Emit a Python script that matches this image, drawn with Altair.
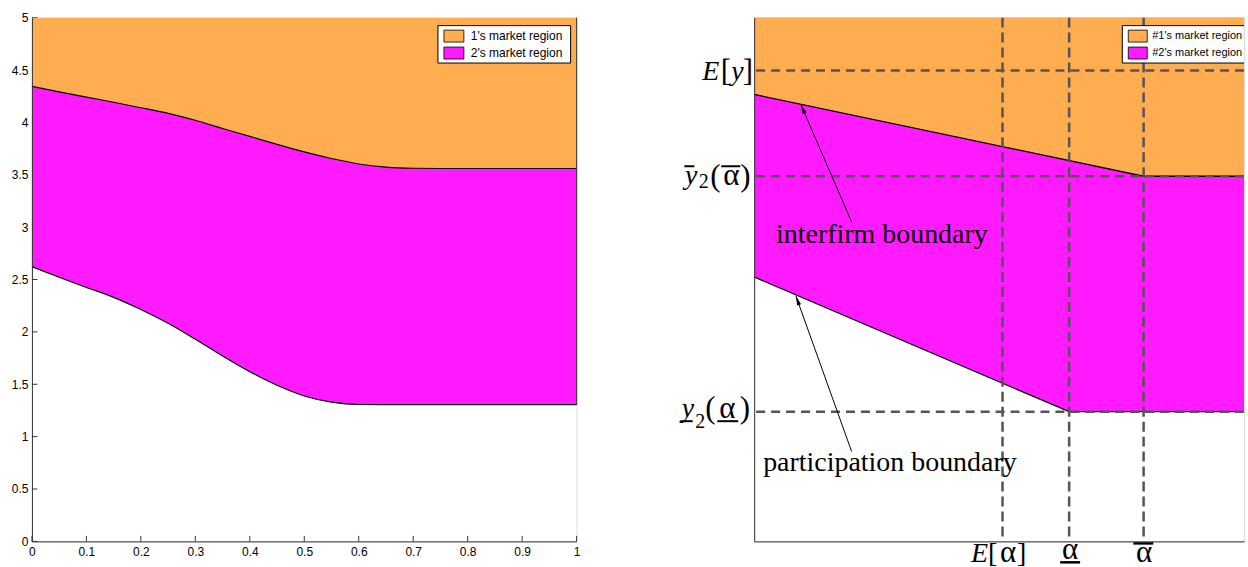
import altair as alt
import pandas as pd

# ---------------- colours ----------------
ORANGE = "#FFAD50"
MAGENTA = "#FF1AFF"
AXIS = "#333333"
DASH = "#555555"

# ---------------- left panel data ----------------
left_x = [0.0, 0.05, 0.10, 0.15, 0.20, 0.25, 0.30, 0.35, 0.40, 0.45, 0.50,
          0.55, 0.60, 0.65, 0.70, 0.75, 0.80, 0.90, 1.00]
left_upper = [4.343, 4.292, 4.242, 4.192, 4.140, 4.086, 4.020, 3.942, 3.866, 3.790, 3.718,
              3.655, 3.603, 3.573, 3.562, 3.560, 3.560, 3.560, 3.560]
left_lower = [2.622, 2.522, 2.424, 2.330, 2.214, 2.082, 1.930, 1.770, 1.620, 1.490, 1.388,
              1.329, 1.307, 1.305, 1.305, 1.305, 1.305, 1.305, 1.305]
left_top = 5.0
left_xticks = [0, 0.1, 0.2, 0.3, 0.4, 0.5, 0.6, 0.7, 0.8, 0.9, 1]
left_yticks = [0, 0.5, 1, 1.5, 2, 2.5, 3, 3.5, 4, 4.5, 5]
left_legend = ["1's market region", "2's market region"]

# ---------------- right panel (schematic) data ----------------
right_interfirm_x = [0.0, 0.795, 1.0]
right_interfirm_y = [4.267, 3.486, 3.486]
right_particip_x = [0.0, 0.643, 1.0]
right_particip_y = [2.524, 1.238, 1.238]
right_vlines = [0.507, 0.643, 0.795]      # E[alpha], alpha_, alpha-bar
right_hlines = [4.495, 3.486, 1.238]      # E[y], ybar2(alphabar), y_2(alpha_)
right_top = 5.0
right_legend = ["#1's market region", "#2's market region"]
arrow_labels = ["interfirm boundary", "participation boundary"]
arrow_tail_x = [0.199, 0.199]
arrow_tail_y = [3.048, 0.857]
arrow_head_x = [0.0953, 0.0852]
arrow_head_y = [4.171, 2.343]
label_x = [0.0446, 0.0183]
label_y = [2.850, 0.676]

W1, W2, H = 546, 491, 525
SERIF = "Liberation Serif"
SANS = "Liberation Sans"

# ---------------- left panel ----------------
xs_l = alt.Scale(domain=[0, 1], nice=False, zero=False)
ys_l = alt.Scale(domain=[0, 5], nice=False, zero=False)
ax_common = dict(ticks=False, tickSize=0, domainColor=AXIS, domainWidth=1,
                 labelFont=SANS, labelFontSize=12, labelColor="black",
                 grid=False, title=None, labelFlush=False, labelOverlap=False,
                 zindex=1, format="~g")
lx_axis = alt.Axis(values=left_xticks, labelPadding=5, **ax_common)
ly_axis = alt.Axis(values=left_yticks, labelPadding=4, **ax_common)


def LX(f):
    return alt.X(f, type="quantitative", scale=xs_l, axis=lx_axis)


def LY(f):
    return alt.Y(f, type="quantitative", scale=ys_l, axis=ly_axis)


ldf = pd.DataFrame({"x": left_x, "upper": left_upper, "lower": left_lower,
                    "top": [left_top] * len(left_x)})

l_xt = alt.Chart(pd.DataFrame({"t": left_xticks})).mark_rule(color=AXIS, strokeWidth=1).encode(
    x=LX("t"), y=alt.value(H), y2=alt.value(H - 5.5))
l_yt = alt.Chart(pd.DataFrame({"t": left_yticks})).mark_rule(color=AXIS, strokeWidth=1).encode(
    y=LY("t"), x=alt.value(0), x2=alt.value(5.5))
l_mag = alt.Chart(ldf).mark_area(color=MAGENTA, opacity=1, interpolate="monotone").encode(
    x=LX("x"), y=LY("lower"), y2="upper")
l_org = alt.Chart(ldf).mark_area(color=ORANGE, opacity=1, interpolate="monotone").encode(
    x=LX("x"), y=LY("upper"), y2="top")
l_up = alt.Chart(ldf).mark_line(color="black", strokeWidth=1.2, interpolate="monotone").encode(
    x=LX("x"), y=LY("upper"))
l_lo = alt.Chart(ldf).mark_line(color="black", strokeWidth=1.2, interpolate="monotone").encode(
    x=LX("x"), y=LY("lower"))
l_edge = alt.Chart(pd.DataFrame({"x": [left_x[-1]], "a": [left_lower[-1]], "b": [left_top]})).mark_rule(
    color="#333333", strokeWidth=1).encode(x=LX("x"), y=LY("a"), y2="b")

dummy = pd.DataFrame({"d": [0]})


def legend_layers(labels, x0, x1, sw0, sw1, tx, fsize, clip):
    box = alt.Chart(dummy).mark_rect(fill="white", stroke="black", strokeWidth=1, clip=clip).encode(
        x=alt.value(x0), x2=alt.value(x1), y=alt.value(8), y2=alt.value(45.5))
    out = [box]
    rows = [(12.5, 24.5, ORANGE), (29.5, 41.5, MAGENTA)]
    for lab, (ya, yb, col) in zip(labels, rows):
        out.append(alt.Chart(dummy).mark_rect(fill=col, stroke="black", strokeWidth=0.8, clip=clip).encode(
            x=alt.value(sw0), x2=alt.value(sw1), y=alt.value(ya), y2=alt.value(yb)))
        out.append(alt.Chart(pd.DataFrame({"label": [lab]})).mark_text(
            align="left", baseline="middle", font=SANS, fontSize=fsize, color="black", clip=clip).encode(
            x=alt.value(tx), y=alt.value((ya + yb) / 2), text="label:N"))
    return out


left = alt.layer(l_xt, l_yt, l_mag, l_org, l_up, l_lo, l_edge,
                 *legend_layers(left_legend, 407, 540, 413, 433, 440, 12, False)
                 ).properties(width=W1, height=H)

# ---------------- right panel ----------------
xs_r = alt.Scale(domain=[0, 1], nice=False, zero=False)
ys_r = alt.Scale(domain=[0, 5], nice=False, zero=False)
r_axis = alt.Axis(labels=False, ticks=False, domainColor=AXIS, domainWidth=1, grid=False,
                  title=None, zindex=1)


def RX(f):
    return alt.X(f, type="quantitative", scale=xs_r, axis=r_axis)


def RY(f):
    return alt.Y(f, type="quantitative", scale=ys_r, axis=r_axis)


inter_df = pd.DataFrame({"x": right_interfirm_x, "y": right_interfirm_y,
                         "top": [right_top] * len(right_interfirm_x)})
part_df = pd.DataFrame({"x": right_particip_x, "y": right_particip_y,
                        "top": [right_top] * len(right_particip_x)})

r_mag = alt.Chart(part_df).mark_area(color=MAGENTA, opacity=1).encode(x=RX("x"), y=RY("y"), y2="top")
r_org = alt.Chart(inter_df).mark_area(color=ORANGE, opacity=1).encode(x=RX("x"), y=RY("y"), y2="top")
r_l1 = alt.Chart(inter_df).mark_line(color="black", strokeWidth=1.3).encode(x=RX("x"), y=RY("y"))
r_l2 = alt.Chart(part_df).mark_line(color="black", strokeWidth=1.3).encode(x=RX("x"), y=RY("y"))
r_h = alt.Chart(pd.DataFrame({"h": right_hlines})).mark_rule(
    color=DASH, strokeWidth=2.5, strokeDash=[9, 6]).encode(y=RY("h"))
r_v = alt.Chart(pd.DataFrame({"v": right_vlines})).mark_rule(
    color=DASH, strokeWidth=2.5, strokeDash=[10, 5]).encode(x=RX("v"))

arr_df = pd.DataFrame({"tx": arrow_tail_x, "ty": arrow_tail_y, "hx": arrow_head_x, "hy": arrow_head_y,
                       "label": arrow_labels, "lx": label_x, "ly": label_y})
r_arr = alt.Chart(arr_df).mark_rule(color="black", strokeWidth=1).encode(
    x=RX("tx"), y=RY("ty"), x2="hx", y2="hy")
HEAD = "M0,0L0.45,2L-0.45,2Z"
r_head1 = alt.Chart(arr_df.iloc[[0]]).mark_point(shape=HEAD, filled=True, color="black", size=90,
                                                  angle=336.6, opacity=1).encode(x=RX("hx"), y=RY("hy"))
r_head2 = alt.Chart(arr_df.iloc[[1]]).mark_point(shape=HEAD, filled=True, color="black", size=90,
                                                  angle=340.3, opacity=1).encode(x=RX("hx"), y=RY("hy"))
r_text = alt.Chart(arr_df).mark_text(align="left", baseline="alphabetic", font=SERIF, fontSize=28,
                                     color="black").encode(x=RX("lx"), y=RY("ly"), text="label:N")


def ylab(value, txt, dx, dy, italic=False, size=28, align="left"):
    return alt.Chart(pd.DataFrame({"v": [value]})).mark_text(
        text=txt, align=align, baseline="alphabetic", dx=dx, dy=dy, font=SERIF, fontSize=size,
        fontStyle="italic" if italic else "normal", color="black").encode(x=alt.value(0), y=RY("v"))


def ybar(value, x1, x2, yoff):
    return alt.Chart(pd.DataFrame({"v": [value]})).mark_rule(
        color="black", strokeWidth=2, yOffset=yoff).encode(x=alt.value(x1), x2=alt.value(x2), y=RY("v"))


def xlab(value, txt, dx, dy, italic=False, size=28, align="left"):
    return alt.Chart(pd.DataFrame({"v": [value]})).mark_text(
        text=txt, align=align, baseline="alphabetic", dx=dx, dy=dy, font=SERIF, fontSize=size,
        fontStyle="italic" if italic else "normal", color="black").encode(x=RX("v"), y=alt.value(H))


def xbar(value, o1, o2, yoff):
    return alt.Chart(pd.DataFrame({"v": [value]})).mark_rule(
        color="black", strokeWidth=2.5, xOffset=o1, x2Offset=o2).encode(
        x=RX("v"), x2=alt.X2("v"), y=alt.value(H + yoff))


A = "\u03b1"
AS = 31   # alpha glyph size
BS = 31   # bracket / parenthesis size
ey, yb, yl = right_hlines
labels = [
    # E[y]
    ylab(ey, "E", -52, 9, italic=True), ylab(ey, "[", -33.5, 10, size=BS),
    ylab(ey, "y", -23, 9, italic=True), ylab(ey, "]", -11.5, 10, size=BS),
    # ybar_2(alphabar)
    ylab(yb, "y", -69.3, 8, italic=True), ybar(yb, -70, -60, -10),
    ylab(yb, "2", -55.6, 12, size=20), ylab(yb, "(", -44, 10, size=BS),
    ylab(yb, A, -23, 9, align="center", size=AS), ybar(yb, -33, -14, -10),
    ylab(yb, ")", -14, 10, size=BS),
    # y_2(alpha_)
    ylab(yl, "y", -72.6, 5, italic=True), ybar(yl, -73.3, -61.7, 9.5),
    ylab(yl, "2", -59, 16, size=20), ylab(yl, "(", -49, 6, size=BS),
    ylab(yl, A, -27, 6, align="center", size=AS), ybar(yl, -37, -16, 9.5),
    ylab(yl, ")", -14.5, 6, size=BS),
    # x labels
    xlab(right_vlines[0], "E", -31.5, 21, italic=True), xlab(right_vlines[0], "[", -14.5, 21),
    xlab(right_vlines[0], A, 5.5, 21, align="center", size=AS), xlab(right_vlines[0], "]", 14.5, 21),
    xlab(right_vlines[1], A, 1, 17.5, align="center", size=AS), xbar(right_vlines[1], -9, 11, 21),
    xlab(right_vlines[2], A, 0.5, 21, align="center", size=AS), xbar(right_vlines[2], -10.3, 9.7, 2),
]

right = alt.layer(r_mag, r_org, r_l1, r_l2, r_h, r_v, r_arr, r_head1, r_head2, r_text, *labels,
                  *legend_layers(right_legend, 369, 530, 375, 394, 399, 11, True)
                  ).properties(width=W2, height=H)

chart = alt.hconcat(left, right, spacing=178, bounds="flush").properties(
    padding={"left": 10, "top": 10, "right": 0, "bottom": 0}
).configure_view(stroke=None).configure(background="white")

chart.save("out.html", embed_options={"renderer": "svg", "actions": False})
